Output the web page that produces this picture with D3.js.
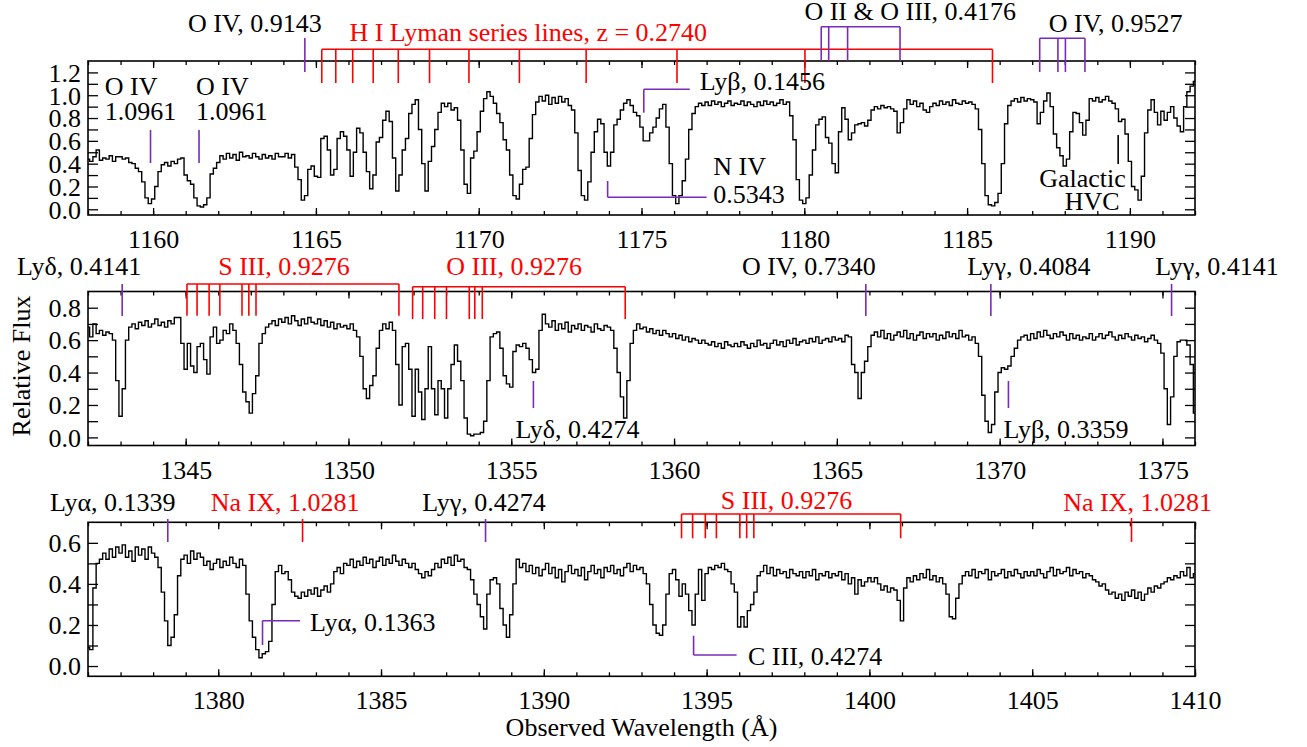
<!DOCTYPE html>
<html>
<head>
<meta charset="utf-8">
<script src="https://cdn.jsdelivr.net/npm/d3@7"></script>
<style>
  body { margin: 0; background: #fff; }
  svg text { font-family: "Liberation Serif", "Times New Roman", serif; font-size: 26px; }
</style>
</head>
<body>
<svg id="chart" width="1307" height="747"></svg>
<script>
// --- spectra: relative flux on a 0.1 A grid ---
const waveStart = [1158, 1342, 1376];
const waveStep = 0.1;
const yRanges = [[-0.05, 1.3], [-0.05, 0.9], [-0.05, 0.7]];
const yLabelMax = [1.2, 0.8, 0.6];

const flux1 = [
  0.44,0.42,0.46,0.52,0.43,0.45,0.44,0.47,0.42,0.46,
  0.46,0.44,0.45,0.41,0.40,0.36,0.33,0.24,0.10,0.05,
  0.09,0.20,0.33,0.39,0.41,0.38,0.42,0.40,0.44,0.45,
  0.30,0.25,0.22,0.10,0.03,0.02,0.04,0.10,0.31,0.36,
  0.41,0.47,0.44,0.49,0.45,0.48,0.43,0.50,0.46,0.47,
  0.45,0.49,0.46,0.44,0.48,0.45,0.47,0.44,0.49,0.46,
  0.46,0.49,0.45,0.48,0.37,0.26,0.08,0.12,0.35,0.38,
  0.29,0.28,0.62,0.64,0.52,0.30,0.35,0.62,0.68,0.64,
  0.52,0.29,0.50,0.71,0.67,0.50,0.33,0.18,0.30,0.59,
  0.63,0.78,0.86,0.77,0.45,0.16,0.30,0.52,0.62,0.84,
  0.92,0.96,0.70,0.40,0.16,0.42,0.55,0.70,0.85,0.93,
  0.90,0.93,0.87,0.89,0.78,0.52,0.22,0.14,0.45,0.51,
  0.68,0.86,0.97,1.03,0.99,0.93,0.84,0.76,0.61,0.52,
  0.30,0.12,0.09,0.22,0.35,0.37,0.62,0.83,0.94,0.99,
  0.95,1.00,0.92,0.98,0.93,0.99,0.94,0.97,0.91,0.87,
  0.67,0.34,0.12,0.08,0.24,0.50,0.68,0.79,0.75,0.50,
  0.38,0.50,0.74,0.79,0.87,0.93,0.96,0.91,0.85,0.82,
  0.72,0.60,0.60,0.67,0.72,0.80,0.88,0.92,0.72,0.40,
  0.12,0.05,0.12,0.25,0.44,0.70,0.84,0.90,0.93,0.91,
  0.94,0.91,0.95,0.92,0.94,0.90,0.93,0.95,0.91,0.93,
  0.92,0.95,0.91,0.94,0.92,0.90,0.94,0.91,0.95,0.92,
  0.94,0.91,0.93,0.96,0.92,0.94,0.82,0.61,0.26,0.08,
  0.05,0.10,0.30,0.52,0.74,0.79,0.81,0.63,0.58,0.40,
  0.32,0.68,0.89,0.79,0.61,0.67,0.74,0.75,0.76,0.73,
  0.78,0.87,0.90,0.88,0.91,0.89,0.90,0.88,0.86,0.67,
  0.76,0.88,0.96,0.92,0.95,0.90,0.93,0.87,0.85,0.90,
  0.93,0.91,0.95,0.92,0.94,0.91,0.96,0.93,0.92,0.95,
  0.93,0.94,0.92,0.88,0.70,0.40,0.12,0.04,0.03,0.06,
  0.14,0.40,0.75,0.91,0.95,0.97,0.94,0.98,0.95,0.97,
  0.96,0.94,0.75,0.85,0.95,1.02,0.90,0.66,0.54,0.47,
  0.38,0.44,0.68,0.85,0.84,0.76,0.65,0.78,0.97,0.95,
  0.98,0.94,0.96,0.99,0.95,0.93,0.88,0.77,0.79,0.66,
  0.42,0.20,0.17,0.08,0.29,0.67,0.87,0.96,0.85,0.74,
  0.86,0.78,0.85,0.90,0.80,0.73,0.68,0.90,1.03,1.08,
  1.12
];

const flux2 = [
  0.68,0.62,0.70,0.64,0.66,0.63,0.65,0.64,0.60,0.35,
  0.13,0.30,0.60,0.68,0.70,0.67,0.71,0.69,0.72,0.68,
  0.70,0.73,0.69,0.71,0.68,0.72,0.70,0.74,0.74,0.58,
  0.42,0.58,0.44,0.40,0.56,0.58,0.48,0.39,0.62,0.68,
  0.58,0.60,0.66,0.64,0.70,0.66,0.58,0.45,0.28,0.22,
  0.15,0.27,0.38,0.58,0.64,0.68,0.70,0.72,0.69,0.73,
  0.71,0.74,0.70,0.75,0.72,0.69,0.73,0.70,0.74,0.71,
  0.70,0.73,0.69,0.72,0.68,0.71,0.67,0.70,0.68,0.69,
  0.67,0.70,0.66,0.62,0.50,0.30,0.24,0.32,0.38,0.55,
  0.66,0.70,0.67,0.71,0.66,0.45,0.20,0.56,0.58,0.42,
  0.13,0.42,0.28,0.11,0.30,0.56,0.30,0.14,0.35,0.30,
  0.12,0.30,0.45,0.57,0.47,0.35,0.12,0.02,0.01,0.02,
  0.02,0.03,0.10,0.35,0.62,0.64,0.65,0.55,0.38,0.33,
  0.31,0.53,0.57,0.56,0.58,0.55,0.48,0.40,0.42,0.66,
  0.76,0.70,0.68,0.72,0.66,0.70,0.67,0.71,0.65,0.69,
  0.67,0.70,0.66,0.69,0.68,0.65,0.70,0.67,0.66,0.69,
  0.68,0.66,0.55,0.40,0.25,0.12,0.35,0.58,0.66,0.70,
  0.67,0.68,0.65,0.67,0.64,0.66,0.63,0.66,0.64,0.62,
  0.64,0.61,0.63,0.60,0.62,0.59,0.61,0.60,0.58,0.60,
  0.58,0.57,0.59,0.56,0.58,0.55,0.59,0.57,0.56,0.58,
  0.56,0.59,0.57,0.55,0.58,0.56,0.60,0.57,0.58,0.55,
  0.58,0.60,0.57,0.59,0.56,0.60,0.58,0.61,0.57,0.59,
  0.60,0.58,0.61,0.59,0.62,0.58,0.60,0.61,0.59,0.62,
  0.60,0.61,0.59,0.63,0.62,0.45,0.40,0.24,0.40,0.47,
  0.56,0.63,0.65,0.62,0.66,0.61,0.64,0.60,0.63,0.65,
  0.62,0.66,0.61,0.64,0.60,0.63,0.65,0.61,0.64,0.62,
  0.64,0.60,0.63,0.61,0.65,0.62,0.64,0.61,0.66,0.62,
  0.63,0.60,0.62,0.58,0.50,0.26,0.10,0.03,0.08,0.28,
  0.40,0.43,0.42,0.44,0.50,0.55,0.60,0.62,0.63,0.60,
  0.64,0.61,0.65,0.62,0.66,0.63,0.61,0.64,0.62,0.65,
  0.63,0.60,0.64,0.61,0.63,0.60,0.62,0.61,0.64,0.60,
  0.62,0.64,0.61,0.63,0.65,0.62,0.60,0.63,0.61,0.64,
  0.62,0.60,0.63,0.61,0.62,0.59,0.61,0.63,0.60,0.58,
  0.52,0.30,0.08,0.25,0.50,0.59,0.60,0.60,0.57,0.45,
  0.15
];

const flux3 = [
  0.09,0.08,0.38,0.50,0.52,0.55,0.52,0.57,0.53,0.58,
  0.55,0.59,0.53,0.56,0.51,0.58,0.54,0.57,0.52,0.58,
  0.55,0.53,0.48,0.36,0.22,0.10,0.14,0.25,0.44,0.52,
  0.54,0.50,0.56,0.52,0.55,0.53,0.49,0.51,0.47,0.50,
  0.52,0.48,0.51,0.49,0.53,0.50,0.48,0.52,0.49,0.35,
  0.22,0.14,0.08,0.04,0.06,0.07,0.12,0.30,0.46,0.49,
  0.45,0.46,0.42,0.36,0.34,0.33,0.36,0.34,0.37,0.35,
  0.38,0.34,0.37,0.39,0.36,0.40,0.46,0.48,0.45,0.50,
  0.49,0.52,0.48,0.51,0.49,0.53,0.50,0.52,0.48,0.51,
  0.53,0.49,0.52,0.50,0.54,0.51,0.49,0.52,0.50,0.48,
  0.50,0.47,0.45,0.43,0.46,0.44,0.47,0.50,0.48,0.52,
  0.50,0.53,0.49,0.54,0.51,0.52,0.48,0.47,0.42,0.35,
  0.30,0.24,0.18,0.35,0.42,0.43,0.40,0.28,0.20,0.14,
  0.25,0.40,0.52,0.48,0.50,0.46,0.49,0.45,0.48,0.44,
  0.47,0.50,0.45,0.48,0.43,0.47,0.41,0.46,0.49,0.45,
  0.47,0.44,0.48,0.42,0.46,0.49,0.45,0.47,0.43,0.48,
  0.46,0.49,0.45,0.47,0.44,0.48,0.50,0.46,0.49,0.47,
  0.48,0.45,0.40,0.30,0.20,0.16,0.15,0.20,0.35,0.45,
  0.47,0.42,0.34,0.40,0.35,0.27,0.20,0.35,0.47,0.32,
  0.45,0.48,0.47,0.49,0.48,0.50,0.47,0.46,0.40,0.36,
  0.19,0.24,0.19,0.27,0.30,0.36,0.44,0.46,0.49,0.45,
  0.48,0.44,0.47,0.45,0.46,0.43,0.47,0.45,0.44,0.46,
  0.43,0.46,0.44,0.47,0.42,0.45,0.44,0.46,0.43,0.45,
  0.44,0.46,0.42,0.45,0.40,0.43,0.35,0.42,0.39,0.41,
  0.43,0.41,0.43,0.40,0.37,0.39,0.36,0.38,0.37,0.32,
  0.22,0.38,0.43,0.41,0.44,0.42,0.45,0.43,0.47,0.42,
  0.44,0.41,0.43,0.40,0.35,0.24,0.23,0.33,0.40,0.44,
  0.46,0.44,0.47,0.43,0.46,0.45,0.47,0.42,0.46,0.44,
  0.45,0.47,0.43,0.46,0.44,0.47,0.45,0.43,0.46,0.44,
  0.46,0.44,0.47,0.45,0.43,0.46,0.48,0.44,0.47,0.45,
  0.46,0.48,0.44,0.47,0.45,0.46,0.43,0.45,0.44,0.42,
  0.41,0.39,0.40,0.37,0.35,0.36,0.33,0.35,0.32,0.36,
  0.34,0.37,0.33,0.36,0.32,0.35,0.38,0.36,0.39,0.38,
  0.40,0.41,0.43,0.42,0.44,0.43,0.46,0.44,0.48,0.43,
  0.45
];

// --- line identifications (observed wavelengths, A) ---
const lyman2740 = [1165.18,1165.61,1166.13,1166.76,1167.53,1168.49,1169.70,1171.25,1173.30,1176.09,1180.02,1185.78];
const oiiOiii4176 = [1180.52,1180.75,1181.33,1182.94];
const oiv9527 = [1187.23,1187.79,1188.02,1188.62];
const siii9276a = [1345.04,1345.35,1345.72,1346.05,1346.73,1346.94,1347.16,1351.55];
const oiii9276 = [1351.97,1352.28,1352.65,1353.01,1353.71,1353.88,1354.11,1358.50];
const siii9276b = [1394.23,1394.57,1394.96,1395.30,1396.02,1396.23,1396.45,1400.96];

// group: target = red system, id = other absorbers (purple), mw = Galactic
const ids1 = [
  {kind: "bracket", waves: lyman2740, text: ["H I Lyman series lines, z = 0.2740"], group: "target"},
  {kind: "tick", waves: [1164.66], text: ["O IV, 0.9143"], group: "id"},
  {kind: "bracket", waves: oiiOiii4176, text: ["O II & O III, 0.4176"], group: "id"},
  {kind: "bracket", waves: oiv9527, text: ["O IV, 0.9527"], group: "id"},
  {kind: "tick", waves: [1159.92], text: ["O IV", "1.0961"], group: "id"},
  {kind: "tick", waves: [1161.41], text: ["O IV", "1.0961"], group: "id"},
  {kind: "leader", waves: [1175.07], text: ["Lyβ, 0.1456"], group: "id"},
  {kind: "leader", waves: [1173.96], text: ["N IV", "0.5343"], group: "id"},
  {kind: "tick", waves: [1189.64], text: ["Galactic", "HVC"], group: "mw"}
];
const ids2 = [
  {kind: "tick", waves: [1343.05], text: ["Lyδ, 0.4141"], group: "id"},
  {kind: "bracket", waves: siii9276a, text: ["S III, 0.9276"], group: "target"},
  {kind: "bracket", waves: oiii9276, text: ["O III, 0.9276"], group: "target"},
  {kind: "tick", waves: [1365.89], text: ["O IV, 0.7340"], group: "id"},
  {kind: "tick", waves: [1369.73], text: ["Lyγ, 0.4084"], group: "id"},
  {kind: "tick", waves: [1375.28], text: ["Lyγ, 0.4141"], group: "id"},
  {kind: "tick", waves: [1355.68], text: ["Lyδ, 0.4274"], group: "id"},
  {kind: "tick", waves: [1370.27], text: ["Lyβ, 0.3359"], group: "id"}
];
const ids3 = [
  {kind: "tick", waves: [1378.45], text: ["Lyα, 0.1339"], group: "id"},
  {kind: "tick", waves: [1382.59], text: ["Na IX, 1.0281"], group: "target"},
  {kind: "tick", waves: [1388.21], text: ["Lyγ, 0.4274"], group: "id"},
  {kind: "bracket", waves: siii9276b, text: ["S III, 0.9276"], group: "target"},
  {kind: "tick", waves: [1408.05], text: ["Na IX, 1.0281"], group: "target"},
  {kind: "leader", waves: [1381.36], text: ["Lyα, 0.1363"], group: "id"},
  {kind: "leader", waves: [1394.6], text: ["C III, 0.4274"], group: "id"}
];

// --- layout (pixels, relative to each panel's top-left / the mark) ---
const W = 1307, H = 747;
const left = 88, plotW = 1107, plotH = 154;
const panelTops = [61, 291.5, 522.3];
const lineColor = {target: "#ff0000", id: "#7a2ab8", mw: "#000000"};
const textColor = {target: "#ff0000", id: "#000000", mw: "#000000"};

// y1/y2: line extent, yh: leader arm, hx: arm length, tx: text x offset, ty: baselines
const lay1 = [
  {y1: -11.7, y2: 22, tx: 206.5, ty: [-20], a: "middle"},
  {y1: -23, y2: 11, tx: -50, ty: [-29.3], a: "middle"},
  {y1: -34.3, y2: 0, tx: 89, ty: [-41], a: "middle"},
  {y1: -22.7, y2: 11, tx: 76, ty: [-29.3], a: "middle"},
  {y1: 69, y2: 102, tx: -45.7, ty: [34, 59], a: "start"},
  {y1: 69, y2: 102, tx: -3, ty: [34, 59], a: "start"},
  {y1: 28.3, y2: 51.7, yh: 28.3, hx: 46, tx: 56, ty: [28.5], a: "start"},
  {y1: 120, y2: 136.3, yh: 136.3, hx: 99, tx: 105.7, ty: [114, 141.7], a: "start"},
  {y1: 74, y2: 103, tx: [-35.7, -26], ty: [125.7, 149], a: "middle"}
];
const lay2 = [
  {y1: -7.5, y2: 24.5, tx: -43, ty: [-16.5], a: "middle"},
  {y1: -7.5, y2: 24.2, tx: 97, ty: [-16.5], a: "middle"},
  {y1: -4.8, y2: 27.5, tx: 101.5, ty: [-16.5], a: "middle"},
  {y1: -7.5, y2: 24.5, tx: -57, ty: [-16.5], a: "middle"},
  {y1: -7.5, y2: 24.5, tx: 38, ty: [-16.5], a: "middle"},
  {y1: -7.5, y2: 24.5, tx: 45.5, ty: [-16.5], a: "middle"},
  {y1: 89.5, y2: 116.5, tx: -18, ty: [146.2], a: "start"},
  {y1: 89.5, y2: 116.5, tx: -5, ty: [146.5], a: "start"}
];
const lay3 = [
  {y1: -3.3, y2: 19.7, tx: -55, ty: [-11], a: "middle"},
  {y1: -3.3, y2: 19.7, tx: -17.5, ty: [-11], a: "middle"},
  {y1: -3.3, y2: 19.7, tx: -1.5, ty: [-11], a: "middle"},
  {y1: -8.3, y2: 16, tx: 105, ty: [-13], a: "middle"},
  {y1: -4.3, y2: 19.7, tx: 6, ty: [-11], a: "middle"},
  {y1: 98.4, y2: 122.7, yh: 98.4, hx: 37.5, tx: 47.5, ty: [109], a: "start"},
  {y1: 113.4, y2: 132.7, yh: 132.7, hx: 43, tx: 54.4, ty: [142.7], a: "start"}
];

const svg = d3.select("#chart");
svg.append("rect").attr("width", W).attr("height", H).attr("fill", "#fff");

const panels = [
  {flux: flux1, ids: ids1, lay: lay1},
  {flux: flux2, ids: ids2, lay: lay2},
  {flux: flux3, ids: ids3, lay: lay3}
];

panels.forEach(function(p, k) {
  const top = panelTops[k];
  const x0 = waveStart[k];
  const waves = p.flux.map((f, i) => x0 + i * waveStep);
  const x = d3.scaleLinear().domain([x0, x0 + 34]).range([0, plotW]);
  const y = d3.scaleLinear().domain(yRanges[k]).range([plotH, 0]);

  const g = svg.append("g").attr("transform", `translate(${left},${top})`);

  g.append("clipPath").attr("id", "clip" + k)
    .append("rect").attr("width", plotW).attr("height", plotH);

  // spectrum
  const line = d3.line().curve(d3.curveStep)
    .x((d, i) => x(waves[i])).y(d => y(d));
  g.append("path").datum(p.flux)
    .attr("clip-path", `url(#clip${k})`)
    .attr("d", line)
    .attr("fill", "none").attr("stroke", "#000").attr("stroke-width", 1.4)
    .attr("stroke-linejoin", "miter");

  // axes
  const majorX = d3.range(Math.ceil(x0 / 5) * 5, x0 + 34.01, 5);
  const minorX = d3.range(x0, x0 + 34.01, 1);
  const yt = d3.range(0, Math.round(yRanges[k][1] * 10)).map(v => v / 10);
  const fmtY = v => (Math.round(v * 10) % 2 === 0 && v <= yLabelMax[k] + 1e-9) ? v.toFixed(1) : "";

  function styleAxis(sel) {
    sel.select(".domain").remove();
    sel.attr("font-family", null).attr("font-size", null);
    sel.selectAll("line").attr("stroke", "#000").attr("stroke-width", 1.3);
    sel.selectAll("text").attr("fill", "#000");
  }

  g.append("g").attr("transform", `translate(0,${plotH})`)
    .call(d3.axisBottom(x).tickValues(minorX).tickSize(-4).tickFormat(""))
    .call(styleAxis);
  const bx = g.append("g").attr("transform", `translate(0,${plotH})`)
    .call(d3.axisBottom(x).tickValues(majorX).tickSize(-7).tickFormat(d3.format("d")))
    .call(styleAxis);
  bx.selectAll("text").attr("y", 33).attr("dy", null);

  g.append("g")
    .call(d3.axisTop(x).tickValues(minorX).tickSize(-4).tickFormat(""))
    .call(styleAxis);
  g.append("g")
    .call(d3.axisTop(x).tickValues(majorX).tickSize(-7).tickFormat(""))
    .call(styleAxis);

  const ly = g.append("g")
    .call(d3.axisLeft(y).tickValues(yt).tickSize(-10).tickPadding(7).tickFormat(fmtY))
    .call(styleAxis);
  ly.selectAll("text").attr("dy", "0.34em");
  g.append("g").attr("transform", `translate(${plotW},0)`)
    .call(d3.axisRight(y).tickValues(yt).tickSize(-10).tickFormat(""))
    .call(styleAxis);

  g.append("rect").attr("width", plotW).attr("height", plotH)
    .attr("fill", "none").attr("stroke", "#000").attr("stroke-width", 1.6);

  // line identifications
  p.ids.forEach(function(d, j) {
    const L = p.lay[j];
    const col = lineColor[d.group];
    const xs = d.waves.map(w => x(w));
    const a = g.append("g").attr("stroke", col).attr("stroke-width", 1.6).attr("fill", "none");
    if (d.kind === "bracket") {
      a.append("line").attr("x1", xs[0]).attr("x2", xs[xs.length - 1])
        .attr("y1", L.y1).attr("y2", L.y1);
    }
    xs.forEach(function(xv) {
      a.append("line").attr("x1", xv).attr("x2", xv).attr("y1", L.y1).attr("y2", L.y2);
    });
    if (d.kind === "leader") {
      a.append("line").attr("x1", xs[0]).attr("x2", xs[0] + L.hx)
        .attr("y1", L.yh).attr("y2", L.yh);
    }
    d.text.forEach(function(s, i) {
      const dx = Array.isArray(L.tx) ? L.tx[i] : L.tx;
      g.append("text").attr("x", xs[0] + dx).attr("y", L.ty[i])
        .attr("text-anchor", L.a).attr("fill", textColor[d.group]).text(s);
    });
  });
});

// axis titles
svg.append("text").attr("transform", "translate(30,366) rotate(-90)")
  .attr("text-anchor", "middle").text("Relative Flux");
svg.append("text").attr("x", 641.5).attr("y", 736)
  .attr("text-anchor", "middle").text("Observed Wavelength (Å)");
</script>
</body>
</html>
